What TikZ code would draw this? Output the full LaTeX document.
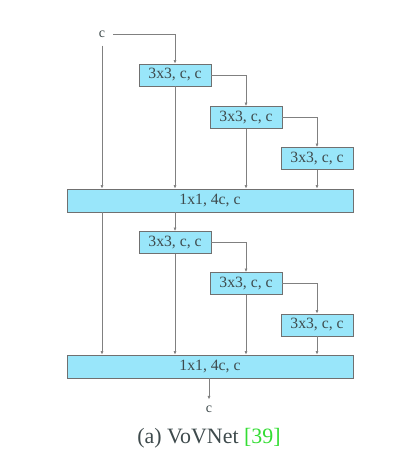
\documentclass[tikz,border=0pt]{standalone}
\usepackage{fontspec}
\setmainfont{Liberation Serif}
\usetikzlibrary{arrows.meta}
\definecolor{boxfill}{HTML}{99E6FA}
\definecolor{boxline}{HTML}{707070}
\definecolor{linecol}{HTML}{808080}
\definecolor{txtcol}{HTML}{3E4A4C}
\definecolor{refgreen}{HTML}{33DD33}
\begin{document}
\begin{tikzpicture}[x=1pt,y=-1pt,
  convbox/.style={draw=boxline,fill=boxfill,line width=0.8pt,minimum width=72pt,minimum height=22pt,inner sep=0pt,text=txtcol,font=\fontsize{15.7}{17}\selectfont},
  bigbox/.style={convbox,minimum width=286pt,minimum height=23pt},
  lbl/.style={inner sep=0pt,text=txtcol,font=\fontsize{14}{16}\selectfont},
  conn/.style={draw=linecol,line width=0.6pt,-{Latex[length=3.5pt,width=3pt]}}]
\useasboundingbox (0,0) rectangle (414,449);
\node[lbl,inner xsep=8pt,inner ysep=8pt] (cin) at (102,34) {c};
\node[convbox] (b1) at (175,75) {3x3, c, c};
\node[convbox] (b2) at (246,117.5) {3x3, c, c};
\node[convbox] (b3) at (317,158.5) {3x3, c, c};
\node[bigbox] (B1) at (210,200.5) {1x1, 4c, c};
\node[convbox] (b4) at (175,242.5) {3x3, c, c};
\node[convbox] (b5) at (246,283.5) {3x3, c, c};
\node[convbox] (b6) at (317,325) {3x3, c, c};
\node[bigbox] (B2) at (210,366.5) {1x1, 4c, c};
\node[lbl,inner ysep=6pt] (cout) at (209,409) {c};
\node[inner sep=0pt,text=txtcol,font=\fontsize{21.9}{24}\selectfont] (cap) at (209,438) {(a) VoVNet \textcolor{refgreen}{[39]}};
% first block
\draw[conn] (cin.east) -| (b1.north);
\draw[conn] (cin.south) -- (cin.south |- B1.north);
\draw[conn] (b1.east) -| (b2.north);
\draw[conn] (b2.east) -| (b3.north);
\draw[conn] (b1.south) -- (b1.south |- B1.north);
\draw[conn] (b2.south) -- (b2.south |- B1.north);
\draw[conn] (b3.south) -- (b3.south |- B1.north);
% second block
\draw[conn] (B1.south -| cin) -- (B2.north -| cin);
\draw[conn] (B1.south -| b4) -- (b4.north);
\draw[conn] (b4.east) -| (b5.north);
\draw[conn] (b5.east) -| (b6.north);
\draw[conn] (b4.south) -- (b4.south |- B2.north);
\draw[conn] (b5.south) -- (b5.south |- B2.north);
\draw[conn] (b6.south) -- (b6.south |- B2.north);
\draw[conn] (B2.south -| cout) -- (cout.north);
\end{tikzpicture}
\end{document}
